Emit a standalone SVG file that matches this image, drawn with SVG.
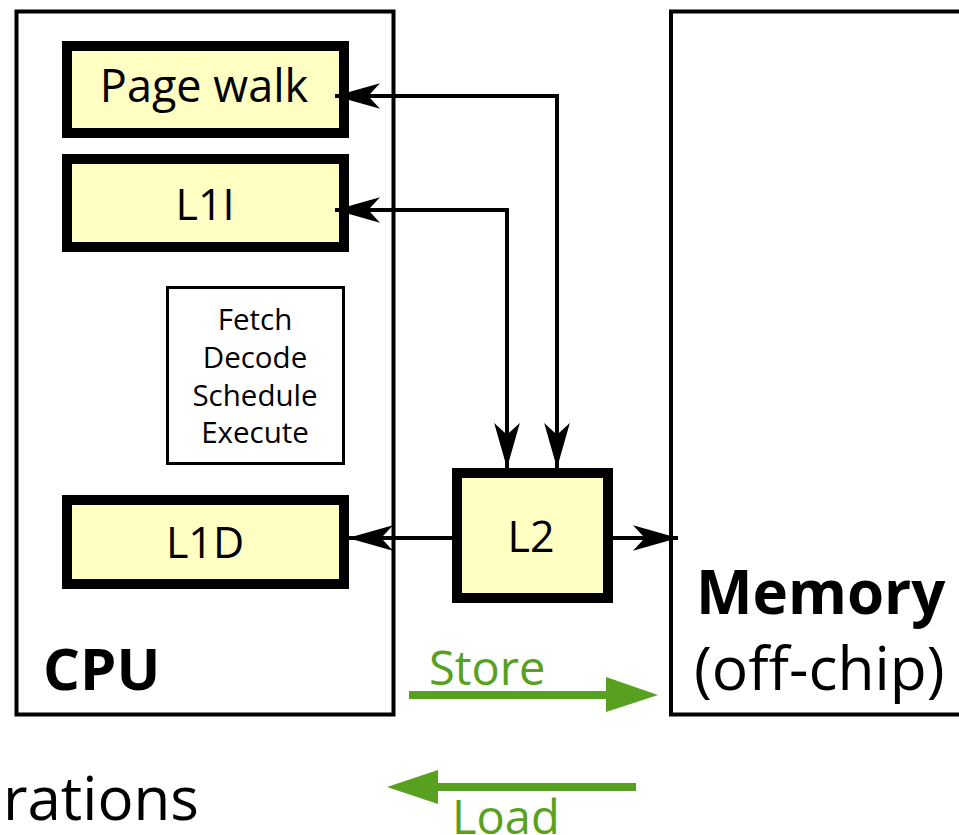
<svg xmlns="http://www.w3.org/2000/svg" width="959" height="835" viewBox="0 0 959 835">
<defs>
<style>
text{font-family:"Open Sans","Noto Sans","DejaVu Sans",sans-serif;fill:#000}
.outer{fill:#fff;stroke:#000;stroke-width:4}
.cache{fill:#ffffc4;stroke:#000;stroke-width:10}
.thin{fill:#fff;stroke:#000;stroke-width:3}
.conn{fill:none;stroke:#000;stroke-width:4}
.green{fill:#58a01f}
.gline{stroke:#58a01f;stroke-width:8;fill:none}
.green-t{fill:#58a01f}
</style>
<marker id="ah" markerUnits="userSpaceOnUse" markerWidth="50" markerHeight="30" viewBox="-44 -14 46 28" refX="0" refY="0" orient="auto-start-reverse">
<path d="M0,0 L-42,-12 L-31,0 L-42,12 Z" fill="#000"/>
</marker>
</defs>
<g id="cpu">
<rect class="outer" x="16.5" y="11.5" width="377" height="703"/>
<text x="43" y="690" font-size="58" font-weight="bold">CPU</text>
</g>
<g id="memory">
<rect class="outer" x="671" y="11.5" width="300" height="703"/>
<text x="696" y="614" font-size="60" font-weight="bold">Memory</text>
<text x="694" y="690" font-size="60.5">(off-chip)</text>
</g>
<g id="pagewalk">
<rect class="cache" x="67" y="46" width="277" height="87"/>
<text x="204" y="102" font-size="45" text-anchor="middle">Page walk</text>
</g>
<g id="l1i">
<rect class="cache" x="67" y="159" width="277" height="88"/>
<text x="205" y="220" font-size="43" text-anchor="middle">L1I</text>
</g>
<g id="pipeline">
<rect class="thin" x="167.5" y="287.5" width="176" height="176"/>
<text x="255" y="330" font-size="29.5" text-anchor="middle">Fetch</text>
<text x="255" y="368" font-size="29.5" text-anchor="middle">Decode</text>
<text x="255" y="406" font-size="29.5" text-anchor="middle">Schedule</text>
<text x="255" y="443" font-size="29.5" text-anchor="middle">Execute</text>
</g>
<g id="l1d">
<rect class="cache" x="67" y="500" width="277" height="84"/>
<text x="205" y="558" font-size="43" text-anchor="middle">L1D</text>
</g>
<g id="connectors">
<path class="conn" d="M335,96 H557 V468" marker-start="url(#ah)" marker-end="url(#ah)"/>
<path class="conn" d="M335,210 H507 V468" marker-start="url(#ah)" marker-end="url(#ah)"/>
<path class="conn" d="M455,538 H348" marker-end="url(#ah)"/>
<path class="conn" d="M610,538 H678" marker-end="url(#ah)"/>
</g>
<g id="l2">
<rect class="cache" x="457" y="473" width="151" height="125"/>
<text x="531" y="552" font-size="43" text-anchor="middle">L2</text>
</g>
<g id="store">
<path class="gline" d="M409,695 H610"/>
<polygon class="green" points="606,677 658,695 606,712"/>
<text class="green-t" x="429" y="685" font-size="47">Store</text>
</g>
<g id="load">
<path class="gline" d="M636,787 H434"/>
<polygon class="green" points="438,770 387,787 438,804"/>
<text class="green-t" x="452" y="834" font-size="47">Load</text>
</g>
<text x="3" y="820" font-size="60">rations</text>
</svg>
